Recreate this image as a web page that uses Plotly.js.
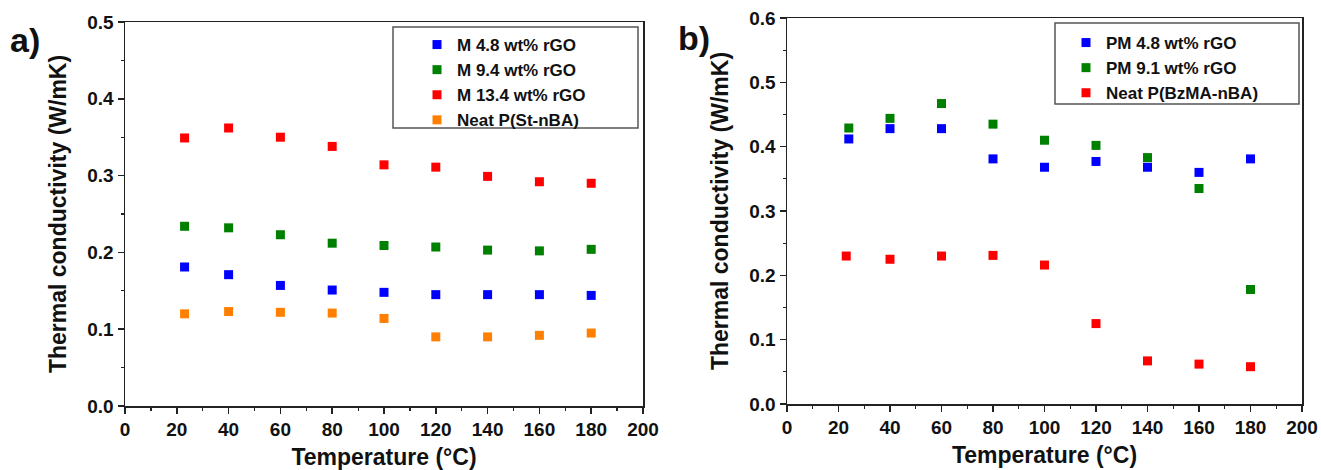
<!DOCTYPE html>
<html>
<head>
<meta charset="utf-8">
<script src="https://cdn.plot.ly/plotly-3.0.1.min.js"></script>
<style>html,body{margin:0;padding:0;background:#fff;}#chart{width:1321px;height:470px;}</style>
</head>
<body>
<div id="chart"></div>
<script>
// Panel a) data
const tempA = [23, 40, 60, 80, 100, 120, 140, 160, 180];
const m48 = [0.181, 0.171, 0.157, 0.151, 0.148, 0.145, 0.145, 0.145, 0.144];
const m94 = [0.234, 0.232, 0.223, 0.212, 0.209, 0.207, 0.203, 0.202, 0.204];
const m134 = [0.349, 0.362, 0.350, 0.338, 0.314, 0.311, 0.299, 0.292, 0.290];
const neatSt = [0.120, 0.123, 0.122, 0.121, 0.114, 0.090, 0.090, 0.092, 0.095];
// Panel b) data
const tempB = [24, 40, 60, 80, 100, 120, 140, 160, 180];
const tempBNeat = [23, 40, 60, 80, 100, 120, 140, 160, 180];
const pm48 = [0.412, 0.428, 0.428, 0.381, 0.368, 0.377, 0.368, 0.360, 0.381];
const pm91 = [0.429, 0.444, 0.467, 0.435, 0.410, 0.402, 0.383, 0.335, 0.178];
const neatBz = [0.230, 0.225, 0.230, 0.231, 0.216, 0.125, 0.067, 0.062, 0.058];

const FONT = 'Liberation Sans';
const BLUE = '#0000ff', GREEN = '#008000', RED = '#ff0000', ORANGE = '#ff8000';
const W = 1321, H = 470;

function tr(x, y, name, color, xa, ya, leg) {
  return {x: x, y: y, name: name, type: 'scatter', mode: 'markers',
    marker: {symbol: 'square', size: 9, color: color},
    xaxis: xa, yaxis: ya, legend: leg};
}
const data = [
  tr(tempA, m48, 'M 4.8 wt% rGO', BLUE, 'x', 'y', 'legend'),
  tr(tempA, m94, 'M 9.4 wt% rGO', GREEN, 'x', 'y', 'legend'),
  tr(tempA, m134, 'M 13.4 wt% rGO', RED, 'x', 'y', 'legend'),
  tr(tempA, neatSt, 'Neat P(St-nBA)', ORANGE, 'x', 'y', 'legend'),
  tr(tempB, pm48, 'PM 4.8 wt% rGO', BLUE, 'x2', 'y2', 'legend2'),
  tr(tempB, pm91, 'PM 9.1 wt% rGO', GREEN, 'x2', 'y2', 'legend2'),
  tr(tempBNeat, neatBz, 'Neat P(BzMA-nBA)', RED, 'x2', 'y2', 'legend2')
];

function xax(domain, anchor) {
  return {domain: domain, anchor: anchor, range: [0, 200], dtick: 20,
    tickfont: {family: FONT, size: 19, weight: 'bold', color: '#111'},
    showgrid: false, zeroline: false, showline: true, linecolor: '#222', linewidth: 1.5,
    mirror: true, ticks: 'outside', ticklen: 6, tickwidth: 1.5, tickcolor: '#222',
    minor: {dtick: 10, ticks: 'outside', ticklen: 3, tickwidth: 1.2, tickcolor: '#222'},
    title: {text: 'Temperature (°C)', standoff: 9, font: {family: FONT, size: 23, color: '#111', weight: 'bold'}}};
}
function yax(domain, anchor, range) {
  return {domain: domain, anchor: anchor, range: range, dtick: 0.1, tickformat: '.1f',
    tickfont: {family: FONT, size: 19, weight: 'bold', color: '#111'},
    showgrid: false, zeroline: false, showline: true, linecolor: '#222', linewidth: 1.5,
    mirror: true, ticks: 'outside', ticklen: 6, tickwidth: 1.5, tickcolor: '#222',
    minor: {dtick: 0.05, ticks: 'outside', ticklen: 3, tickwidth: 1.2, tickcolor: '#222'},
    title: {text: 'Thermal conductivity (W/mK)', standoff: 14, font: {family: FONT, size: 23, color: '#111', weight: 'bold'}}};
}
function legStyle(x, y) {
  return {bgcolor: 'rgba(0,0,0,0)', borderwidth: 0,
    font: {family: FONT, size: 17, color: '#111', weight: 'bold'},
    xanchor: 'left', yanchor: 'top', tracegroupgap: 0, itemwidth: 30, x: x, y: y};
}
function box(x0, y0, x1, y1) {
  return {type: 'rect', xref: 'paper', yref: 'paper', x0: x0 / W, x1: x1 / W,
    y0: 1 - y1 / H, y1: 1 - y0 / H, line: {color: '#555', width: 1.5}, fillcolor: '#fff', layer: 'below'};
}

const layout = {
  width: W, height: H, margin: {l: 0, r: 0, t: 0, b: 0},
  paper_bgcolor: '#fff', plot_bgcolor: 'rgba(0,0,0,0)', showlegend: true,
  xaxis: xax([125 / W, 643 / W], 'y'),
  yaxis: yax([1 - 406 / H, 1 - 22 / H], 'x', [0, 0.5]),
  xaxis2: xax([787 / W, 1302 / W], 'y2'),
  yaxis2: yax([1 - 404 / H, 1 - 18 / H], 'x2', [0, 0.6]),
  legend: legStyle(417 / W, 1 - 27 / H),
  legend2: legStyle(1066 / W, 1 - 25 / H),
  shapes: [box(393, 27, 638, 128), box(1055, 23, 1299, 104)],
  annotations: [
    {text: 'a)', xref: 'paper', yref: 'paper', x: 8 / W, y: 1 - 40 / H, xanchor: 'left', yanchor: 'middle', showarrow: false,
     font: {family: FONT, size: 34, color: '#111', weight: 'bold'}},
    {text: 'b)', xref: 'paper', yref: 'paper', x: 676 / W, y: 1 - 38 / H, xanchor: 'left', yanchor: 'middle', showarrow: false,
     font: {family: FONT, size: 34, color: '#111', weight: 'bold'}}
  ]
};
Plotly.newPlot('chart', data, layout, {displayModeBar: false, staticPlot: true});
</script>
</body>
</html>
